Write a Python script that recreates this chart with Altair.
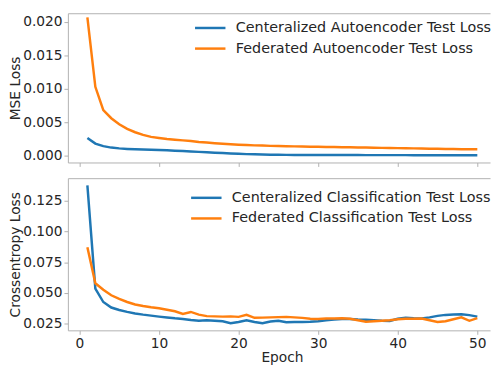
import altair as alt
import pandas as pd

epochs = list(range(1, 51))

ae_central = [0.00265, 0.00180, 0.00142, 0.00120, 0.00108, 0.00100, 0.00094, 0.00090, 0.00087, 0.00084,
              0.00079, 0.00074, 0.00068, 0.00062, 0.00056, 0.00050, 0.00044, 0.00038, 0.00032, 0.00027,
              0.00022, 0.00019, 0.00016, 0.00014, 0.00012, 0.00011, 0.00010, 0.00010, 0.00009, 0.00009,
              0.00009, 0.00008, 0.00008, 0.00008, 0.00008, 0.00007, 0.00007, 0.00007, 0.00007, 0.00007,
              0.00007, 0.00006, 0.00006, 0.00006, 0.00006, 0.00006, 0.00006, 0.00006, 0.00006, 0.00006]

ae_federated = [0.0207, 0.0103, 0.0068, 0.0056, 0.0047, 0.0040, 0.0035, 0.0031, 0.0028, 0.00265,
                0.00250, 0.00238, 0.00228, 0.00218, 0.00205, 0.00195, 0.00186, 0.00178, 0.00170, 0.00164,
                0.00158, 0.00153, 0.00150, 0.00146, 0.00143, 0.00140, 0.00138, 0.00136, 0.00134, 0.00132,
                0.00130, 0.00128, 0.00126, 0.00124, 0.00122, 0.00120, 0.00118, 0.00116, 0.00114, 0.00112,
                0.00110, 0.00108, 0.00106, 0.00104, 0.00102, 0.00100, 0.00098, 0.00096, 0.00095, 0.00094]

cls_central = [0.1375, 0.0535, 0.0425, 0.0380, 0.0360, 0.0345, 0.0332, 0.0322, 0.0314, 0.0306,
               0.0299, 0.0292, 0.0287, 0.0278, 0.0272, 0.0276, 0.0272, 0.0268, 0.0252, 0.0262,
               0.0276, 0.0262, 0.0252, 0.0266, 0.0272, 0.0260, 0.0262, 0.0263, 0.0264, 0.0268,
               0.0276, 0.0282, 0.0286, 0.0286, 0.0282, 0.0280, 0.0276, 0.0272, 0.0270, 0.0288,
               0.0296, 0.0292, 0.0290, 0.0300, 0.0312, 0.0320, 0.0324, 0.0325, 0.0318, 0.0306]

cls_federated = [0.0872, 0.0578, 0.0525, 0.0480, 0.0450, 0.0425, 0.0405, 0.0392, 0.0382, 0.0374,
                 0.0362, 0.0350, 0.0328, 0.0344, 0.0322, 0.0310, 0.0308, 0.0306, 0.0308, 0.0304,
                 0.0320, 0.0296, 0.0298, 0.0300, 0.0302, 0.0304, 0.0300, 0.0296, 0.0288, 0.0286,
                 0.0290, 0.0290, 0.0292, 0.0288, 0.0276, 0.0265, 0.0268, 0.0272, 0.0276, 0.0284,
                 0.0288, 0.0288, 0.0290, 0.0276, 0.0262, 0.0268, 0.0285, 0.0300, 0.0272, 0.0294]

ae_names = ["Centeralized Autoencoder Test Loss", "Federated Autoencoder Test Loss"]
cls_names = ["Centeralized Classification Test Loss", "Federated Classification Test Loss"]
colors = ["#1f77b4", "#ff7f0e"]
x_ticks = [0, 10, 20, 30, 40, 50]
ae_ticks = [0.0, 0.005, 0.010, 0.015, 0.020]
cls_ticks = [0.025, 0.050, 0.075, 0.100, 0.125]

FONT = "DejaVu Sans"
FRAME = "#b0b0b0"
TEXT = "#262626"
W = 430


def frame_df(names, a, b):
    return pd.DataFrame({
        "Epoch": epochs + epochs,
        "Loss": a + b,
        "Series": [names[0]] * len(epochs) + [names[1]] * len(epochs),
    })


def panel(df, names, ydomain, yticks, ytitle, h, lx, ly, bottom):
    xscale = alt.Scale(domain=[-1.45, 51.6], nice=False, zero=False)
    if bottom:
        xaxis = alt.Axis(values=x_ticks, title="Epoch", labels=True, ticks=True, tickSize=4,
                         labelPadding=2, titlePadding=1, grid=False, titleX=218)
    else:
        xaxis = alt.Axis(values=x_ticks, title="", labels=False, ticks=True, tickSize=4,
                         grid=False, minExtent=4, maxExtent=4)
    yaxis = alt.Axis(values=yticks, format=".3f", title=ytitle, tickSize=4,
                     labelPadding=2, minExtent=45, maxExtent=45, titlePadding=1, grid=False)
    lines = alt.Chart(df).mark_line(strokeWidth=2.5).encode(
        x=alt.X("Epoch:Q", scale=xscale, axis=xaxis),
        y=alt.Y("Loss:Q", scale=alt.Scale(domain=ydomain, nice=False, zero=False), axis=yaxis),
        color=alt.Color("Series:N", scale=alt.Scale(domain=names, range=colors),
                        legend=alt.Legend(title=None, orient="none", legendX=lx, legendY=ly,
                                          symbolType="M-2,0H2", symbolSize=240, symbolStrokeWidth=2.5,
                                          labelFontSize=14.6, labelFont=FONT, labelColor=TEXT,
                                          labelLimit=400, labelOffset=17, rowPadding=5, padding=0)),
        order=alt.Order("Epoch:Q"),
    )
    frame = alt.Chart(df).mark_line(opacity=0).encode(
        x=alt.X("Epoch:Q", axis=alt.Axis(orient="top", labels=False, ticks=False, domain=True,
                                         title="", grid=False, minExtent=0, maxExtent=0)),
        y=alt.Y("Loss:Q", axis=yaxis),
    )
    return alt.layer(lines, frame).resolve_axis(x="independent").properties(width=W, height=h)


top = panel(frame_df(ae_names, ae_central, ae_federated), ae_names,
            [-0.00103, 0.02132], ae_ticks, "MSE Loss", 152, 136, 6, False)
bot = panel(frame_df(cls_names, cls_central, cls_federated), cls_names,
            [0.0194, 0.1434], cls_ticks, "Crossentropy Loss", 155, 132, 11, True)

chart = alt.vconcat(top, bot, spacing=10).resolve_scale(color="independent").properties(
    padding={"left": 0, "top": 0, "right": 0, "bottom": 0}
).configure_view(stroke="transparent").configure_axis(
    labelFont=FONT, titleFont=FONT, labelFontSize=14, titleFontSize=14,
    labelColor=TEXT, titleColor=TEXT, titleFontWeight="normal",
    domainColor=FRAME, tickColor=FRAME, domainWidth=1, tickWidth=1,
)

chart.save("out.html", embed_options={"renderer": "svg", "actions": False})
